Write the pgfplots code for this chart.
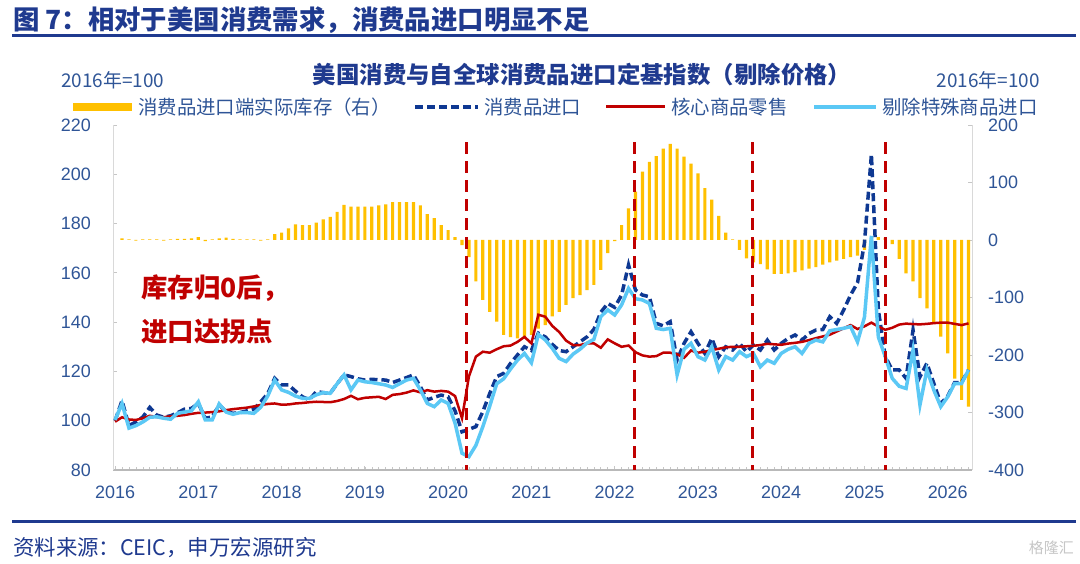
\documentclass[border=0pt]{standalone}
\usepackage{pgfplots}
\pgfplotsset{compat=1.18}
\usepackage{pgfplotstable}
\usepackage{fontspec}
\setmainfont{Liberation Sans}
\newfontfamily\cjk{Noto Sans CJK SC}
\definecolor{navy}{RGB}{31,58,143}
\definecolor{ticklab}{RGB}{47,85,151}
\definecolor{gold}{RGB}{255,192,0}
\definecolor{dblue}{RGB}{14,56,146}
\definecolor{cred}{RGB}{192,0,0}
\definecolor{cyanl}{RGB}{91,200,245}

\pgfplotstableread{
m bar red blue cyan
0 nan 99.6 100 100.3
1 3 101.4 108.1 107
2 1 100.5 98 97
3 -1 100.3 99.5 98
4 1 101 101.5 99.5
5 1 102 105.4 101.4
6 1 101.5 102.3 101.6
7 -1 101.4 101.4 101
8 1 101.8 102 100.6
9 2 102 103.2 103
10 2 102.3 104.7 103.5
11 3 102.8 105 104
12 5 103.2 107 107.7
13 -2 103.3 101 100.3
14 1 103.5 101.5 100.3
15 3 103.8 106.4 106.8
16 4 104.3 103.7 103.5
17 2 104.7 103 102.6
18 1 105 103.3 103.3
19 1 105.3 104 103.3
20 1 105.8 104.7 103
21 -1 106.4 107.7 105.5
22 1 106.8 111 110
23 10 107 117.2 116.5
24 13 106.5 114.5 112.5
25 20 106.6 114.5 111.5
26 27 107 112 110
27 26 107.2 109.7 109.1
28 26 107.5 108.5 109.1
29 30 107.7 111.8 110.5
30 36 107.6 111.4 111.4
31 40 107.5 111.1 111.1
32 49 108 115 115
33 61 108.8 118.6 118.6
34 58 110.1 117.9 112.5
35 58 108.7 117 116.5
36 58 109.3 116.5 115.8
37 58 109.5 116.8 115.5
38 60 109.7 116.6 115
39 62 108.8 116.5 114.5
40 66 110.5 115.5 113.5
41 66 110.8 116.5 115
42 66 111.4 117.5 116.5
43 66 112.3 118.6 117.2
44 60 111.5 113.8 112.5
45 45 112.4 108.4 107
46 38 111.8 109.5 105.7
47 26 112.1 110.4 108.4
48 17 111.8 109.7 107
49 5 110 104 99
50 -9 101 95.5 86.8
51 -30 118 96.5 85.4
52 -72 126 97.6 90
53 -104 128 103.7 97.6
54 -125 127.6 111.1 106
55 -142 129 117.9 115
56 -165 130.2 119.2 117
57 -169 130.5 123.3 121
58 -171 132 126.7 124.6
59 -169 134 130 127.3
60 -165 131.4 128.5 123.5
61 -154 143 135.5 135
62 -148 142.2 134 132.8
63 -133 138.5 131 129.4
64 -125 136 128.5 125.3
65 -113 132.5 128 124
66 -101 130.7 130 127
67 -96 130.7 132 129
68 -87 131.4 134 131.5
69 -78 131.4 137 133
70 -52 129.6 144 142.2
71 -23 133 147.6 145
72 -2 131.4 146 142.9
73 26 130 151 147
74 55 130.5 163.2 153.7
75 84 127.8 153 149.5
76 119 126.5 151 149
77 136 126 150.3 147.6
78 146 126.2 139.5 137.5
79 159 127.6 138.5 137
80 167 127.6 140.2 137.5
81 159 127 124.6 118.6
82 145 125.5 131.4 129
83 133 128.5 136.1 131.4
84 116 127.6 131.4 126
85 90 128 127.3 124.6
86 70 128.7 133.4 130
87 42 129.2 126 120.6
88 13 129.8 130 126
89 1 130 128.7 124.6
90 -17 130 131.4 128
91 -32 130.2 128 126
92 -39 130.4 130.7 127.3
93 -42 130.7 128.7 121.9
94 -51 131.2 132.7 124.6
95 -59 131 128.7 123.3
96 -59 130.8 131.4 127.3
97 -58 131.3 133.4 129
98 -56 131.6 134.8 130
99 -53 132 132.7 127.3
100 -50 132.7 135.4 131.4
101 -47 133.5 136.8 132.7
102 -43 134.2 137 132
103 -39 134.9 142.2 136.5
104 -36 136.2 139.5 137
105 -33 137.5 144.9 137.5
106 -30 138.8 151 138.2
107 -27 137.2 156 132
108 -17 138.3 172 142
109 -10 139.8 208 175
110 5 138.2 145 134
111 4 136.9 126 126
112 -7 137.7 120.6 117.2
113 -33 139 120.6 114
114 -58 139.4 117.2 113.1
115 -72 139.2 136.8 128.7
116 -101 139.1 117.8 106.4
117 -119 139.3 123.3 120.6
118 -145 139.6 115.1 112.4
119 -168 139.8 107 105.7
120 -197 139.8 110 109.7
121 -241 139.3 115.5 115.1
122 -278 138.8 115.5 115.1
123 -290 139.5 120.6 120.6
}\datatab

\begin{document}
\begin{tikzpicture}
\path[fill=white,use as bounding box] (0,0) rectangle (1080bp,564bp);
% top title
\node[anchor=west,inner sep=0,text=navy,font=\cjk\bfseries\fontsize{26.5}{27}\selectfont] at (13bp,544bp) {图 7：相对于美国消费需求，消费品进口明显不足};
\draw[navy,line width=3bp] (12bp,528bp) -- (1076bp,528bp);
% chart title
\node[inner sep=0,text=navy,font=\cjk\bfseries\fontsize{23.5}{24}\selectfont] at (582bp,489bp) {美国消费与自全球消费品进口定基指数（剔除价格）};
\node[anchor=west,inner sep=0,text=ticklab,font=\cjk\fontsize{19}{20}\selectfont] at (61bp,484bp) {2016年=100};
\node[anchor=east,inner sep=0,text=ticklab,font=\cjk\fontsize{19}{20}\selectfont] at (1040bp,484bp) {2016年=100};
% legend
\fill[gold] (73bp,453bp) rectangle (132bp,461bp);
\node[anchor=west,inner sep=0,text=ticklab,font=\cjk\fontsize{19.5}{20}\selectfont] at (138bp,457bp) {消费品进口端实际库存（右）};
\draw[dblue,line width=3.5bp,dash pattern=on 8bp off 4bp] (415bp,457bp) -- (478bp,457bp);
\node[anchor=west,inner sep=0,text=ticklab,font=\cjk\fontsize{19.5}{20}\selectfont] at (484bp,457bp) {消费品进口};
\draw[cred,line width=3bp] (606bp,457bp) -- (665bp,457bp);
\node[anchor=west,inner sep=0,text=ticklab,font=\cjk\fontsize{19.5}{20}\selectfont] at (671bp,457bp) {核心商品零售};
\draw[cyanl,line width=3.5bp] (814bp,457bp) -- (876bp,457bp);
\node[anchor=west,inner sep=0,text=ticklab,font=\cjk\fontsize{19.5}{20}\selectfont] at (882bp,457bp) {剔除特殊商品进口};

% bars on right axis
\begin{axis}[
  at={(113bp,94bp)}, anchor=south west, scale only axis,
  width=859bp, height=345bp,
  xmin=-0.3, xmax=123.5, ymin=-400, ymax=200,
  axis x line=none, axis y line*=right,
  ytick={-400,-300,-200,-100,0,100,200},
  yticklabels={-400,-300,-200,-100,0,100,200},
  yticklabel style={font=\fontsize{18}{18}\selectfont, text=ticklab, anchor=west, inner sep=0pt, xshift=16bp},
  axis line style={draw=gray!30, line width=0.8bp},
  tick align=inside, major tick length=4bp,
  tick style={draw=gray!45, line width=0.8bp},
]
\addplot[ybar, bar width=3.2bp, fill=gold, draw=none] table[x=m,y=bar]{\datatab};
\end{axis}

% lines on left axis
\begin{axis}[
  at={(113bp,94bp)}, anchor=south west, scale only axis,
  width=859bp, height=345bp,
  xmin=-0.3, xmax=123.5, ymin=80, ymax=220,
  axis y line*=left, axis x line*=bottom,
  xtick={0,12,...,120},
  xticklabels={2016,2017,2018,2019,2020,2021,2022,2023,2024,2025,2026},
  minor xtick={1,...,123},
  ytick={80,100,...,220},
  yticklabels={80,100,120,140,160,180,200,220},
  yticklabel style={font=\fontsize{18}{18}\selectfont, text=ticklab, anchor=east, inner sep=0pt, xshift=-22bp},
  xticklabel style={font=\fontsize{18}{18}\selectfont, text=ticklab, anchor=north, inner sep=0pt, yshift=-16bp},
  x axis line style={draw=gray!55, line width=1.2bp},
  y axis line style={draw=gray!30, line width=0.8bp},
  tick align=inside, major tick length=4bp, minor tick length=3bp,
  tick style={draw=gray!45, line width=0.8bp},
  minor tick style={draw=gray!45, line width=0.6bp},
]
\addplot[dblue, line width=3.5bp, dash pattern=on 8bp off 4bp] table[x=m,y=blue]{\datatab};
\addplot[cred, line width=2.5bp] table[x=m,y=red]{\datatab};
\addplot[cyanl, line width=3.5bp] table[x=m,y=cyan]{\datatab};
\addplot[cred, line width=3bp, dash pattern=on 12bp off 7bp] coordinates {(50.6,213) (50.6,80)};
\addplot[cred, line width=3bp, dash pattern=on 12bp off 7bp] coordinates {(74.8,213) (74.8,80)};
\addplot[cred, line width=3bp, dash pattern=on 12bp off 7bp] coordinates {(91.8,213) (91.8,80)};
\addplot[cred, line width=3bp, dash pattern=on 12bp off 7bp] coordinates {(111.1,213) (111.1,80)};
\end{axis}

% annotation
\node[anchor=west,inner sep=0,text=cred,font=\cjk\bfseries\fontsize{26.5}{27}\selectfont] at (141bp,276bp) {库存归0后，};
\node[anchor=west,inner sep=0,text=cred,font=\cjk\bfseries\fontsize{26.5}{27}\selectfont] at (141bp,232bp) {进口达拐点};

% footer
\draw[navy,line width=3bp] (12bp,42bp) -- (1076bp,42bp);
\node[anchor=west,inner sep=0,text=navy,font=\cjk\fontsize{21.5}{22}\selectfont] at (13bp,16bp) {资料来源：CEIC，申万宏源研究};
\node[anchor=east,inner sep=0,text=gray!45,font=\cjk\fontsize{15}{15}\selectfont] at (1074bp,16bp) {格隆汇};
\end{tikzpicture}
\end{document}
